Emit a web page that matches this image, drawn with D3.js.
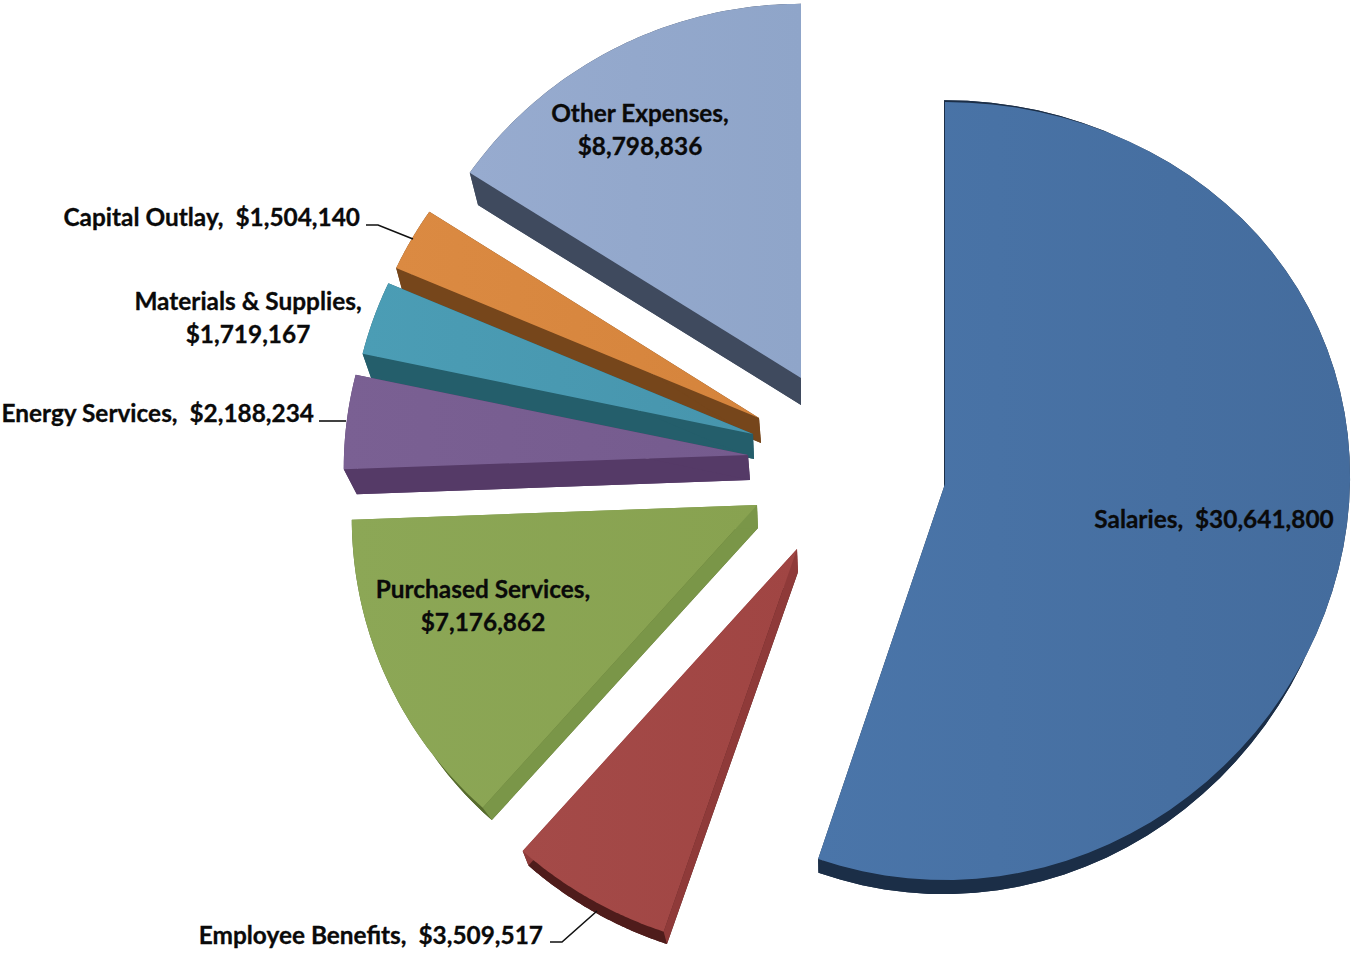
<!DOCTYPE html>
<html>
<head>
<meta charset="utf-8">
<script src="https://cdn.jsdelivr.net/npm/d3@7"></script>
<style>
  html, body { margin: 0; padding: 0; background: #fff; }
  svg { display: block; }
  text { font-family: Lato, "Open Sans", sans-serif; font-weight: 700; font-size: 24.4px; fill: #0a0a0a; stroke: #0a0a0a; stroke-width: 0.3px; white-space: pre; }
</style>
</head>
<body>
<svg id="chart" width="1352" height="955"></svg>
<script>
// Budget categories, clockwise from twelve o'clock.
const categories = ["Salaries", "Employee Benefits", "Purchased Services", "Energy Services",
                    "Materials & Supplies", "Capital Outlay", "Other Expenses"];
const amounts = [30641800, 3509517, 7176862, 2188234, 1719167, 1504140, 8798836];

// Colours per slice: top face (left and right gradient stops), cut walls, rim wall.
const faceLight = ["#4a75a9", "#a44a48", "#8ca756", "#7a6093", "#4b9db5", "#db8a42", "#97abcf"];
const faceDark  = ["#446c9d", "#a04543", "#88a250", "#755b8e", "#4795ad", "#d5843c", "#8fa5c9"];
const wallSide  = ["#1c2f48", "#8f3a39", "#7a9648", "#553a67", "#245e6b", "#76461b", "#3f4a5e"];
const wallRim   = ["#1b2e47", "#4f1c1b", "#566b2d", "#553a67", "#245e6b", "#76461b", "#3f4a5e"];

// Exploded placement of each slice: top face and bottom face ellipses.
// sx widens the near side of a slice and narrows its far side.
const topFace = [
  { cx: 945, cy: 484, rx: 405, ry: 389, sx: -0.02 },
  { cx: 797, cy: 549, rx: 405, ry: 397, sx: 0.033 },
  { cx: 757, cy: 505, rx: 405, ry: 398, sx: 0.033 },
  { cx: 748, cy: 455, rx: 404, ry: 385, sx: 0.033 },
  { cx: 753, cy: 434, rx: 402, ry: 385, sx: 0.033 },
  { cx: 759, cy: 418, rx: 400, ry: 383, sx: 0.033 },
  { cx: 801, cy: 378, rx: 402, ry: 381, sx: 0.033 }
];
const bottomFace = [
  { cx: 944, cy: 490, rx: 401, ry: 397, sx: -0.02 },
  { cx: 798, cy: 572, rx: 398, ry: 386, sx: 0.033 },
  { cx: 758, cy: 528, rx: 393, ry: 384, sx: 0.033 },
  { cx: 750, cy: 480, rx: 393, ry: 385, sx: 0.033 },
  { cx: 754, cy: 459, rx: 394, ry: 385, sx: 0.033 },
  { cx: 761, cy: 443, rx: 395, ry: 385, sx: 0.033 },
  { cx: 801, cy: 405, rx: 392, ry: 371, sx: 0.033 }
];
const tilt = 0.018; // the near side of the disc reads slightly taller than the far side

const labelLines = [
  { lines: ["Salaries,  $30,641,800"], anchor: "middle", x: 1214, y: 528 },
  { lines: ["Employee Benefits,  $3,509,517"], anchor: "end", x: 543, y: 944 },
  { lines: ["Purchased Services,", "$7,176,862"], anchor: "middle", x: 483, y: 598 },
  { lines: ["Energy Services,  $2,188,234"], anchor: "end", x: 314, y: 422 },
  { lines: ["Materials & Supplies,", "$1,719,167"], anchor: "middle", x: 248, y: 310 },
  { lines: ["Capital Outlay,  $1,504,140"], anchor: "end", x: 360, y: 226 },
  { lines: ["Other Expenses,", "$8,798,836"], anchor: "middle", x: 640, y: 122 }
];
const leaders = [
  { category: "Employee Benefits", pts: [[550, 942], [562, 942], [597, 911]] },
  { category: "Energy Services", pts: [[319, 421], [346, 421]] },
  { category: "Capital Outlay", pts: [[366, 225], [378, 225], [413, 239]] }
];

const svg = d3.select("#chart");

const pie = d3.pie().sort(null)(amounts);

// Maps an angle (clockwise from the top) onto a slice's tilted ellipse.
const project = (e, a) => {
  const u = Math.sin(a), v = -Math.cos(a);
  return [e.cx + e.rx * u * (1 + e.sx * v), e.cy + e.ry * v * (1 + tilt * v)];
};
const line = d3.line();
const arcPoints = (e, a0, a1) =>
  d3.range(0, 61).map(i => project(e, a0 + (a1 - a0) * i / 60));

// Horizontal shading across each slice's top face.
const defs = svg.append("defs");
pie.forEach((d, i) => {
  const g = defs.append("linearGradient").attr("id", "face" + i)
    .attr("x1", 0).attr("x2", 1).attr("y1", 0).attr("y2", 0);
  g.append("stop").attr("offset", 0).attr("stop-color", faceLight[i]);
  g.append("stop").attr("offset", 1).attr("stop-color", faceDark[i]);
});

// Painted from the top of the stack downward, so lower slices overlap the walls above them.
const order = [6, 5, 4, 3, 2, 1, 0];
order.forEach(i => {
  const d = pie[i], t = topFace[i], b = bottomFace[i];
  const g = svg.append("g").attr("class", "slice").attr("data-category", categories[i]);
  const tArc = arcPoints(t, d.startAngle, d.endAngle);
  const bArc = arcPoints(b, d.startAngle, d.endAngle);
  const tc = [t.cx, t.cy], bc = [b.cx, b.cy];

  // bottom face and rim
  g.append("path").attr("d", line([bc, ...bArc]) + "Z").attr("fill", wallRim[i]);
  g.append("path").attr("d", line([...tArc, ...bArc.slice().reverse()]) + "Z").attr("fill", wallRim[i]);
  // the two cut walls
  [0, tArc.length - 1].forEach(k => {
    g.append("path").attr("d", line([tc, tArc[k], bArc[k], bc]) + "Z").attr("fill", wallSide[i]);
  });
  // top face
  g.append("path").attr("d", line([tc, ...tArc]) + "Z").attr("fill", `url(#face${i})`);
});

leaders.forEach(l => {
  svg.append("path").attr("d", line(l.pts)).attr("fill", "none")
    .attr("stroke", "#111").attr("stroke-width", 1.6)
    .attr("data-category", l.category);
});

labelLines.forEach(l => {
  const text = svg.append("text").attr("text-anchor", l.anchor);
  l.lines.forEach((s, j) => {
    text.append("tspan").attr("x", l.x).attr("y", l.y + j * 33).text(s);
  });
});
</script>
</body>
</html>
